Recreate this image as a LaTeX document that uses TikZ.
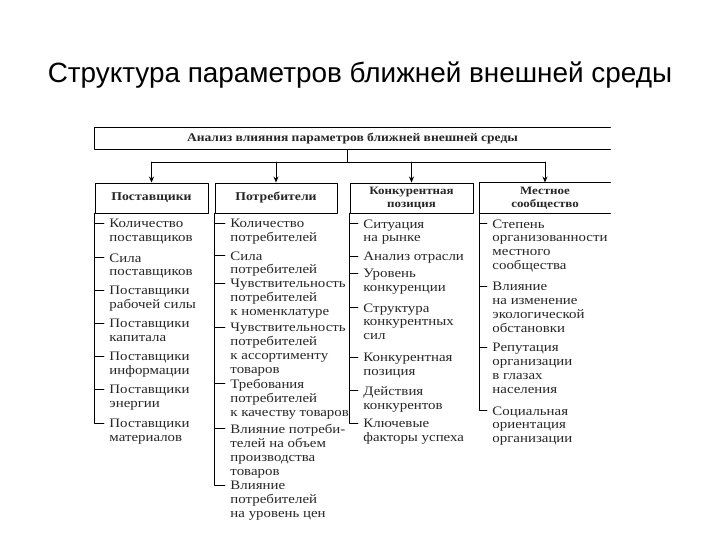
\documentclass[tikz,border=0pt]{standalone}
\usepackage{fontspec}
\setmainfont{Liberation Serif}[FakeStretch=1.15]
\newfontfamily\titlefont{Liberation Sans}
\usetikzlibrary{arrows.meta}
\begin{document}
\begin{tikzpicture}[x=1bp,y=-1bp,line join=round,line cap=round,>={Stealth[length=6bp,width=5bp]},line width=0.9bp]
\tikzset{every node/.style={text=black!85},
  hdr/.style={draw,font=\fontsize{11.3}{13}\selectfont\bfseries,align=center,minimum height=30bp,inner sep=0pt},
  hdrone/.style={hdr,font=\fontsize{12}{13}\selectfont\bfseries,text height=8.5bp,text depth=2.5bp},
  item/.style={anchor=north west,align=left,inner xsep=5bp,inner ysep=0pt,font=\fontsize{13}{14}\selectfont}}
\useasboundingbox (0,0) rectangle (720,540);
\node[text=black,font=\titlefont\fontsize{28}{30}\selectfont] (title) at (360,75) {Структура параметров ближней внешней среды};
% top box, open at the right
\node[minimum width=515bp,minimum height=21bp,inner sep=0pt,font=\fontsize{11.8}{13}\selectfont\bfseries] (top) at (352.5,138.5) {Анализ влияния параметров ближней внешней среды};
\draw (top.north east) -- (top.north west) -- (top.south west) -- (top.south east);
\node[hdrone,minimum width=113bp] (h1) at (151.5,198) {Поставщики};
\node[hdrone,minimum width=122bp] (h2) at (276,198) {Потребители};
\node[hdr,minimum width=123bp] (h3) at (411.5,198) {Конкурентная\\позиция};
\node[hdr,draw=none,minimum width=130bp] (h4) at (545,198) {Местное\\сообщество};
\draw (h4.north east) -- (h4.north west) -- (h4.south west) -- (h4.south east);
% arrows
\coordinate (bus) at (347,162);
\draw (top.south -| bus) -- (bus);
\draw (h1.north |- bus) -- (h4.north |- bus);
\foreach \h in {h1,h2,h3,h4}
  \draw[->] (\h.north |- bus) -- (\h.north);
% lists
\foreach \y/\t [count=\i] in {223/{Количество\\поставщиков},257/{Сила\\поставщиков},290/{Поставщики\\рабочей силы},323/{Поставщики\\капитала},356/{Поставщики\\информации},389/{Поставщики\\энергии},423/{Поставщики\\материалов}}{
  \node[item] (p\i) at (104,\y-4) {\t};
  \draw (h1.south west) |- ([yshift=-4bp]p\i.north west);
}
\foreach \y/\t [count=\i] in {223/{Количество\\потребителей},255/{Сила\\потребителей},283/{Чувствительность\\потребителей\\к номенклатуре},327/{Чувствительность\\потребителей\\к ассортименту\\товаров},383/{Требования\\потребителей\\к качеству товаров},428/{Влияние потреби-\\телей на объем\\производства\\товаров},485/{Влияние\\потребителей\\на уровень цен}}{
  \node[item] (c\i) at (225,\y-4) {\t};
  \draw (h2.south west) |- ([yshift=-4bp]c\i.north west);
}
\foreach \y/\t [count=\i] in {223/{Ситуация\\на рынке},256/{Анализ отрасли},273/{Уровень\\конкуренции},307/{Структура\\конкурентных\\сил},357/{Конкурентная\\позиция},390/{Действия\\конкурентов},423/{Ключевые\\факторы успеха}}{
  \node[item] (k\i) at (358,\y-4) {\t};
  \draw (h3.south west) |- ([yshift=-4bp]k\i.north west);
}
\foreach \y/\t [count=\i] in {223/{Степень\\организованности\\местного\\сообщества},286/{Влияние\\на изменение\\экологической\\обстановки},347/{Репутация\\организации\\в глазах\\населения},410/{Социальная\\ориентация\\организации}}{
  \node[item] (m\i) at (487,\y-4) {\t};
  \draw (h4.south west) |- ([yshift=-4bp]m\i.north west);
}
\end{tikzpicture}
\end{document}
